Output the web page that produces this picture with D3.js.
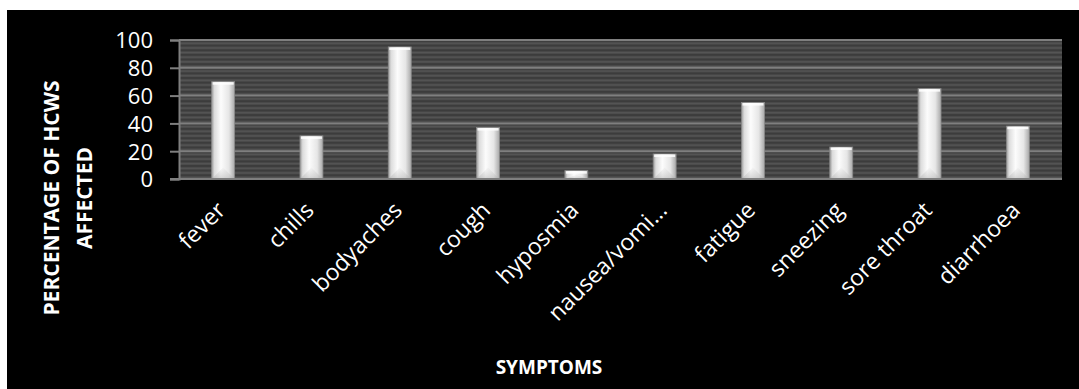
<!DOCTYPE html>
<html>
<head>
<meta charset="utf-8">
<script src="https://cdn.jsdelivr.net/npm/d3@7"></script>
<style>
  html, body { margin: 0; padding: 0; background: #ffffff; }
  svg { display: block; }
  text { font-family: "Open Sans", "DejaVu Sans", sans-serif; fill: #ffffff; }
</style>
</head>
<body>
<svg id="chart" width="1079" height="389"></svg>
<script>
// Symptom categories and the share of health-care workers reporting each
const categories = ["fever", "chills", "bodyaches", "cough", "hyposmia",
                    "nausea/vomi\u2026", "fatigue", "sneezing", "sore throat", "diarrhoea"];
const values = [70, 31, 95, 37, 6, 18, 55, 23, 65, 38];
const yTicks = [0, 20, 40, 60, 80, 100];
const yTitleLines = ["PERCENTAGE OF HCWS", "AFFECTED"];
const xTitle = "SYMPTOMS";

const svg = d3.select("#chart");
const W = 1079, H = 389;

// black chart area
svg.append("rect").attr("x", 7).attr("y", 10).attr("width", W - 7).attr("height", H - 10).attr("fill", "#000");

const plot = { left: 179, right: 1062, top: 40, bottom: 179 };

const x = d3.scaleBand().domain(categories).range([plot.left, plot.right]).paddingInner(0.74).paddingOuter(0.37);
const y = d3.scaleLinear().domain([0, 100]).range([plot.bottom, plot.top]);

const defs = svg.append("defs");

// narrow horizontal stripes for the plot background
const stripe = defs.append("pattern").attr("id", "stripes").attr("patternUnits", "userSpaceOnUse")
  .attr("width", 8).attr("height", 4.63).attr("y", plot.top);
stripe.append("rect").attr("width", 8).attr("height", 4.63).attr("fill", "#3c3c3c");
stripe.append("rect").attr("y", 2.3).attr("width", 8).attr("height", 2).attr("fill", "#555555");

// bar shading: light centre, grey edges
const grad = defs.append("linearGradient").attr("id", "barGrad").attr("x1", "0").attr("x2", "1").attr("y1", "0").attr("y2", "0");
grad.append("stop").attr("offset", "0%").attr("stop-color", "#9a9a9a");
grad.append("stop").attr("offset", "12%").attr("stop-color", "#dcdcdc");
grad.append("stop").attr("offset", "40%").attr("stop-color", "#fcfcfc");
grad.append("stop").attr("offset", "75%").attr("stop-color", "#e6e6e6");
grad.append("stop").attr("offset", "100%").attr("stop-color", "#a8a8a8");

const bevel = defs.append("linearGradient").attr("id", "bevelGrad").attr("x1", "0").attr("x2", "0").attr("y1", "0").attr("y2", "1");
bevel.append("stop").attr("offset", "0%").attr("stop-color", "#d0d0d0").attr("stop-opacity", 0.2);
bevel.append("stop").attr("offset", "100%").attr("stop-color", "#b0b0b0").attr("stop-opacity", 0.9);

svg.append("rect").attr("x", plot.left).attr("y", plot.top)
  .attr("width", plot.right - plot.left).attr("height", plot.bottom - plot.top)
  .attr("fill", "url(#stripes)");

// gridlines + y axis
const yAxis = d3.axisLeft(y).tickValues(yTicks).tickSize(9).tickPadding(17).tickFormat(d3.format("d"));
const gy = svg.append("g").attr("transform", `translate(${plot.left},0)`).call(yAxis);
gy.select(".domain").attr("stroke", "#7f7f7f").attr("stroke-width", 2);
gy.selectAll(".tick line").attr("stroke", "#7f7f7f").attr("stroke-width", 2);
gy.selectAll(".tick text").attr("fill", "#fff").style("font-size", "22px").attr("dy", "0.36em");

svg.append("g").selectAll("line").data(yTicks.filter(d => d > 0)).join("line")
  .attr("x1", plot.left).attr("x2", plot.right)
  .attr("y1", d => y(d)).attr("y2", d => y(d))
  .attr("stroke", "#7f7f7f").attr("stroke-width", 2);

// bars
const bars = svg.append("g").selectAll("g").data(categories).join("g");
bars.append("rect")
  .attr("x", d => x(d)).attr("y", (d, i) => y(values[i]))
  .attr("width", x.bandwidth()).attr("height", (d, i) => y(0) - y(values[i]))
  .attr("fill", "url(#barGrad)").attr("stroke", "#8a8a8a").attr("stroke-width", 0.8);
// top highlight
bars.append("rect")
  .attr("x", d => x(d) + 1).attr("y", (d, i) => y(values[i]) + 0.5)
  .attr("width", x.bandwidth() - 2).attr("height", 2.5)
  .attr("fill", "#ffffff").attr("opacity", 0.85);
// bottom bevel chevron
bars.append("path")
  .attr("d", (d, i) => {
    const x0 = x(d), x1 = x(d) + x.bandwidth(), b = y(0);
    const h = Math.min(x.bandwidth() / 2, (y(0) - y(values[i])) / 2);
    return `M${x0},${b}L${(x0 + x1) / 2},${b - h}L${x1},${b}Z`;
  })
  .attr("fill", "url(#bevelGrad)").attr("opacity", 0.6);

// x axis
const xAxis = d3.axisBottom(x).tickSize(0).tickPadding(0);
const gx = svg.append("g").attr("transform", `translate(0,${plot.bottom})`).call(xAxis);
gx.select(".domain").attr("d", `M${plot.left - 9},0H${plot.right}`).attr("stroke", "#7f7f7f").attr("stroke-width", 2);
gx.selectAll(".tick text")
  .attr("fill", "#fff").style("font-size", "23px")
  .attr("text-anchor", "end")
  .attr("transform", "translate(-2,27) rotate(-45)")
  .attr("dy", "0.35em").attr("y", 0);

// axis titles
const yt = svg.append("text").attr("transform", "translate(68,198) rotate(-90)")
  .attr("text-anchor", "middle").style("font-size", "21px").style("font-weight", "bold");
yt.selectAll("tspan").data(yTitleLines).join("tspan")
  .attr("x", 0).attr("dy", (d, i) => i === 0 ? "-0.45em" : "1.6em").text(d => d);

svg.append("text").attr("x", 549).attr("y", 374).attr("text-anchor", "middle")
  .style("font-size", "19px").style("font-weight", "bold").text(xTitle);
</script>
</body>
</html>
